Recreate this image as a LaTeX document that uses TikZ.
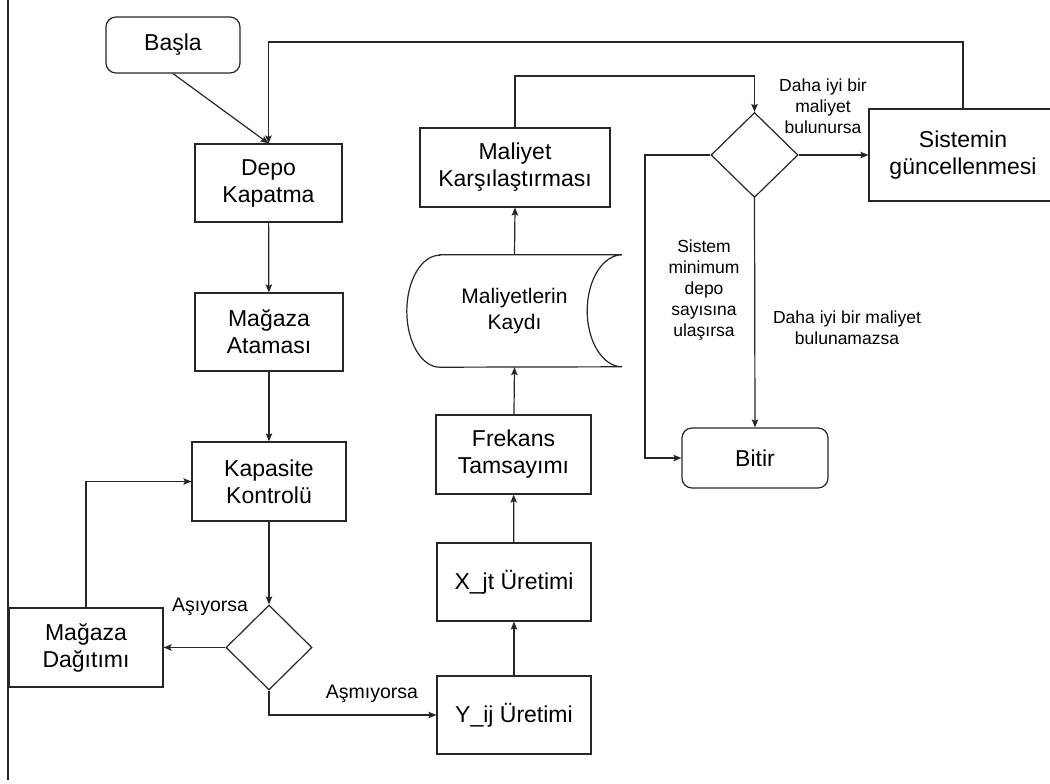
\documentclass[tikz,border=0pt]{standalone}
\usepackage{fontspec}
\setmainfont{Liberation Sans}
\usetikzlibrary{shapes.geometric,arrows.meta}
\begin{document}
\begin{tikzpicture}[x=1pt,y=-1pt,
  line/.style={draw=black!85, line width=1.2pt},
  arr/.style={line, -{Stealth[length=8pt,width=6.5pt,inset=1.5pt]}},
  proc/.style={line, rectangle, inner sep=0pt, align=center,
    font=\fontsize{23}{27}\selectfont},
  term/.style={proc, rounded corners=10pt},
  choice/.style={line, diamond, inner sep=0pt},
  lbl/.style={align=center, inner sep=0pt, font=\fontsize{17.5}{21}\selectfont},
  biglbl/.style={align=center, inner sep=0pt, font=\fontsize{19.5}{23}\selectfont}]

\useasboundingbox (0,0) rectangle (1050,784);

% left frame line
\draw[line] (8,0) -- (8,780);

% process steps
\node[term, minimum width=134pt, minimum height=56pt] (basla) at (173,45) {Başla};
\node[proc, minimum width=147pt, minimum height=78pt] (depo) at (268.5,183) {Depo\\Kapatma};
\node[proc, minimum width=148pt, minimum height=78pt] (atama) at (269,332) {Mağaza\\Ataması};
\node[proc, minimum width=154pt, minimum height=79pt] (kapasite) at (269,481.5) {Kapasite\\Kontrolü};
\node[choice, minimum width=86pt, minimum height=85pt] (karar1) at (269,647.5) {};
\node[proc, minimum width=154pt, minimum height=79pt] (dagitim) at (86,647.5) {Mağaza\\Dağıtımı};
\node[proc, minimum width=154pt, minimum height=78pt] (yij) at (514,715) {Y\_ij Üretimi};
\node[proc, minimum width=154pt, minimum height=78pt] (xjt) at (514,582) {X\_jt Üretimi};
\node[proc, minimum width=155pt, minimum height=79pt] (frekans) at (513.5,454.5) {Frekans\\Tamsayımı};

% stored data shape
\node[inner sep=0pt, align=center, font=\fontsize{21}{26}\selectfont,
      minimum width=215pt, minimum height=112pt] (kayit) at (514.5,311) {Maliyetlerin\\Kaydı};
\draw[line] ([xshift=33pt]kayit.north west) -- (kayit.north east)
  arc[start angle=90, end angle=270, x radius=35pt, y radius=56pt]
  -- ([xshift=33pt]kayit.south west)
  arc[start angle=270, end angle=90, x radius=33pt, y radius=56pt] -- cycle;

\node[proc, minimum width=190pt, minimum height=79pt] (maliyet) at (515,167.5) {Maliyet\\Karşılaştırması};
\node[choice, minimum width=87pt, minimum height=85pt] (karar2) at (754.5,155) {};
\node[proc, minimum width=188pt, minimum height=92pt] (guncelle) at (963,155) {Sistemin\\güncellenmesi};
\node[term, minimum width=146pt, minimum height=60pt] (bitir) at (755,458) {Bitir};

% routing helpers
\coordinate (topline) at (0,42);
\coordinate (loopline) at (0,76);
\coordinate (leftrun) at (645,0);

% connectors
\draw[arr] (basla.south) -- (depo.north);
\draw[arr] (guncelle.north) -- (guncelle.north |- topline) -- (depo.north |- topline) -- (depo.north);
\draw[arr] (depo) -- (atama);
\draw[arr] (atama) -- (kapasite);
\draw[arr] (kapasite) -- (karar1.north);
\draw[arr] (karar1.west) -- (dagitim.east);
\draw[arr] (dagitim.north) |- (kapasite.west);
\draw[arr] (karar1.south) |- (yij.west);
\draw[arr] (yij) -- (xjt);
\draw[arr] (xjt) -- (frekans);
\draw[arr] (frekans) -- (kayit.south);
\draw[arr] (kayit.north) -- (maliyet.south);
\draw[arr] (maliyet.north) -- (maliyet.north |- loopline) -- (karar2.north |- loopline) -- (karar2.north);
\draw[arr] (karar2.east) -- (guncelle.west);
\draw[arr] (karar2.west) -- (karar2.west -| leftrun) |- (bitir.west);
\draw[arr] (karar2.south) -- (bitir.north);

% branch labels
\node[biglbl] (l1) at (210,607) {Aşıyorsa};
\node[biglbl] (l2) at (372,694) {Aşmıyorsa};
\node[lbl] (l3) at (823,106) {Daha iyi bir\\maliyet\\bulunursa};
\node[lbl] (l4) at (704,290) {Sistem\\minimum\\depo\\sayısına\\ulaşırsa};
\node[lbl] (l5) at (847,328) {Daha iyi bir maliyet\\bulunamazsa};
\end{tikzpicture}
\end{document}
